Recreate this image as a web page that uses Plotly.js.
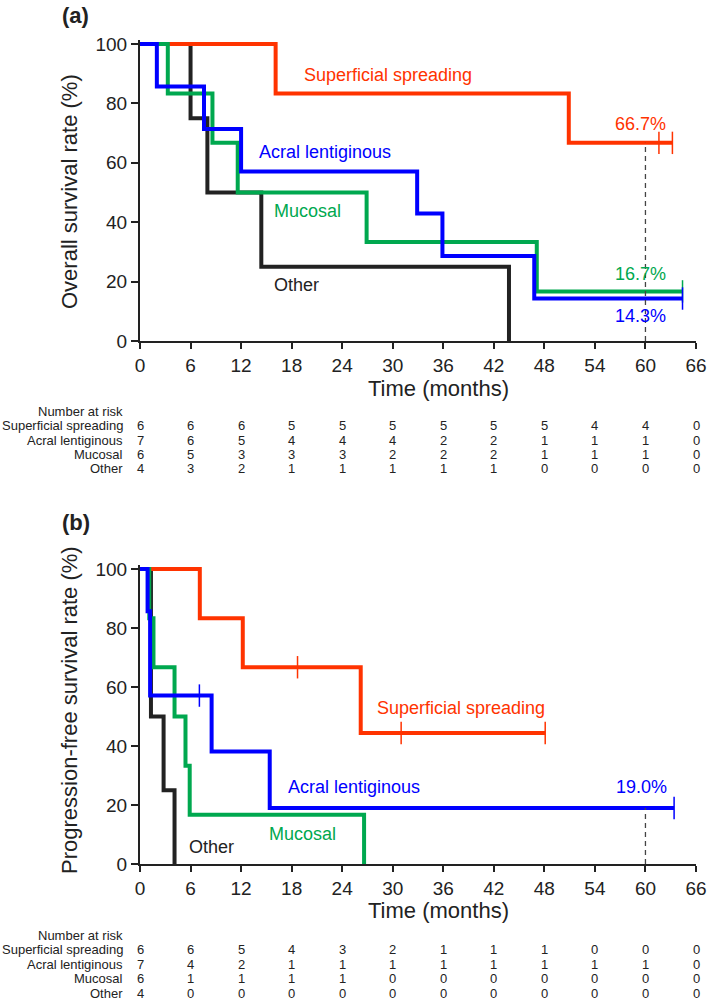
<!DOCTYPE html>
<html>
<head>
<meta charset="utf-8">
<script src="https://cdn.plot.ly/plotly-3.0.1.min.js"></script>
<style>
  body { margin: 0; background: #fff; }
  #plot { width: 709px; height: 1002px; }
</style>
</head>
<body>
<div id="plot"></div>
<script>
// groups, colours
var groups = ["Superficial spreading", "Acral lentiginous", "Mucosal", "Other"];
var colors = ["#ff3300", "#0000ff", "#00a84f", "#222222"];

var riskTimes = [0, 6, 12, 18, 24, 30, 36, 42, 48, 54, 60, 66];

// (a) overall survival - step times (months) and survival (%)
var osSsT = [0, 16.1, 50.9, 63.2];
var osSsS = [100, 83.3, 66.7, 66.7];
var osSsC = [61.6, 63.2];
var osAlT = [0, 2.0, 7.6, 12.0, 32.9, 35.9, 46.8, 64.4];
var osAlS = [100, 85.7, 71.4, 57.1, 42.9, 28.6, 14.3, 14.3];
var osAlC = [64.4];
var osMuT = [0, 3.3, 8.6, 11.6, 26.9, 47.1, 64.4];
var osMuS = [100, 83.3, 66.7, 50, 33.3, 16.7, 16.7];
var osMuC = [64.4];
var osOtT = [0, 6.0, 8.0, 14.4, 43.8];
var osOtS = [100, 75, 50, 25, 0];
var osOtC = [];

// (b) progression-free survival
var pfsSsT = [0, 7.1, 12.2, 26.2, 48.1];
var pfsSsS = [100, 83.3, 66.7, 44.4, 44.4];
var pfsSsC = [18.7, 31.0, 48.1];
var pfsAlT = [0, 0.9, 1.2, 8.5, 15.4, 63.4];
var pfsAlS = [100, 85.7, 57.1, 38.1, 19.0, 19.0];
var pfsAlC = [7.05, 63.4];
var pfsMuT = [0, 1.1, 1.6, 4.1, 5.4, 5.9, 26.6];
var pfsMuS = [100, 83.3, 66.7, 50, 33.3, 16.7, 0];
var pfsMuC = [];
var pfsOtT = [0, 1.3, 2.8, 4.1];
var pfsOtS = [100, 50, 25, 0];
var pfsOtC = [];

// number at risk
var osRiskSs = [6, 6, 6, 5, 5, 5, 5, 5, 5, 4, 4, 0];
var osRiskAl = [7, 6, 5, 4, 4, 4, 2, 2, 1, 1, 1, 0];
var osRiskMu = [6, 5, 3, 3, 3, 2, 2, 2, 1, 1, 1, 0];
var osRiskOt = [4, 3, 2, 1, 1, 1, 1, 1, 0, 0, 0, 0];
var pfsRiskSs = [6, 6, 5, 4, 3, 2, 1, 1, 1, 0, 0, 0];
var pfsRiskAl = [7, 4, 2, 1, 1, 1, 1, 1, 1, 1, 1, 0];
var pfsRiskMu = [6, 1, 1, 1, 1, 0, 0, 0, 0, 0, 0, 0];
var pfsRiskOt = [4, 0, 0, 0, 0, 0, 0, 0, 0, 0, 0, 0];

var landmark = 60;

var W = 709, H = 1002;
var font = "Liberation Sans, Arial, sans-serif";
var ink = "#222222";

function stepAt(t, s, c) {
  var v = s[0];
  for (var i = 0; i < t.length; i++) { if (t[i] <= c) v = s[i]; }
  return v;
}
function py(pix) { return 1 - pix / H; }

var traces = [];
function addPanel(sets, xa, ya, landmarkSeries) {
  // draw order: other, superficial, mucosal, acral
  [3, 0, 2, 1].forEach(function (k) {
    var d = sets[k];
    traces.push({
      x: d[0], y: d[1], xaxis: xa, yaxis: ya,
      type: "scatter", mode: "lines", line: { shape: "hv", width: 4, color: colors[k] },
      hoverinfo: "skip", showlegend: false
    });
    if (d[2].length) {
      traces.push({
        x: d[2], y: d[2].map(function (c) { return stepAt(d[0], d[1], c); }),
        xaxis: xa, yaxis: ya, type: "scatter", mode: "markers", cliponaxis: false,
        marker: { symbol: "line-ns-open", size: 16, color: colors[k], line: { width: 1.5, color: colors[k] } },
        hoverinfo: "skip", showlegend: false
      });
    }
  });
  var top = stepAt(sets[landmarkSeries][0], sets[landmarkSeries][1], landmark);
  traces.push({
    x: [landmark, landmark], y: [0, top], xaxis: xa, yaxis: ya,
    type: "scatter", mode: "lines", line: { width: 1.3, color: "#444", dash: "5px,4px" },
    hoverinfo: "skip", showlegend: false
  });
}

addPanel([[osSsT, osSsS, osSsC], [osAlT, osAlS, osAlC], [osMuT, osMuS, osMuC], [osOtT, osOtS, osOtC]], "x", "y", 0);
addPanel([[pfsSsT, pfsSsS, pfsSsC], [pfsAlT, pfsAlS, pfsAlC], [pfsMuT, pfsMuS, pfsMuC], [pfsOtT, pfsOtS, pfsOtC]], "x2", "y2", 1);

var xdom = [140 / W, 696 / W];
function xAxis(anchor) {
  return {
    domain: xdom, anchor: anchor, range: [0, 66], tickvals: riskTimes,
    ticks: "outside", ticklen: 6, tickwidth: 2, tickcolor: ink,
    showline: true, linewidth: 2, linecolor: ink, showgrid: false, zeroline: false,
    tickfont: { family: font, size: 19, color: ink }, fixedrange: true
  };
}
function yAxis(anchor, dom) {
  return {
    domain: dom, anchor: anchor, range: [0, 101.5], tickvals: [0, 20, 40, 60, 80, 100],
    ticks: "outside", ticklen: 7, tickwidth: 2, tickcolor: ink,
    showline: true, linewidth: 2, linecolor: ink, showgrid: false, zeroline: false,
    tickfont: { family: font, size: 19, color: ink }, fixedrange: true
  };
}

var ann = [];
function txt(text, x, y, xref, yref, size, color, extra) {
  var a = { text: text, x: x, y: y, xref: xref, yref: yref, showarrow: false,
    xanchor: "center", yanchor: "middle",
    font: { family: font, size: size, color: color } };
  for (var k in extra) a[k] = extra[k];
  ann.push(a);
}

// panel letters and titles
txt("<b>(a)</b>", 75 / W, py(16), "paper", "paper", 22, ink, {});
txt("<b>(b)</b>", 76 / W, py(522), "paper", "paper", 22, ink, {});
txt("Overall survival rate (%)", 70 / W, py(192), "paper", "paper", 22, ink, { textangle: -90 });
txt("Progression-free survival rate (%)", 69 / W, py(710), "paper", "paper", 22, ink, { textangle: -90 });
txt("Time (months)", 438 / W, py(388), "paper", "paper", 22, ink, {});
txt("Time (months)", 438 / W, py(910), "paper", "paper", 22, ink, {});

// curve labels
var osLabels = [["Superficial spreading", 388, 89.6, 0], ["Acral lentiginous", 325, 63.6, 1],
  ["Mucosal", 307, 43.8, 2], ["Other", 296, 18.9, 3],
  ["66.7%", 640, 73, 0], ["16.7%", 640, 22.6, 2], ["14.3%", 640, 8.4, 1]];
var pfsLabels = [["Superficial spreading", 461, 52.8, 0], ["Acral lentiginous", 354, 26, 1],
  ["19.0%", 641, 26, 1], ["Mucosal", 302, 10.2, 2], ["Other", 211, 5.6, 3]];
osLabels.forEach(function (l) { txt(l[0], l[1] / W, l[2], "paper", "y", 18, colors[l[3]], {}); });
pfsLabels.forEach(function (l) { txt(l[0], l[1] / W, l[2], "paper", "y2", 18, colors[l[3]], {}); });

// number at risk tables
function riskTable(xref, rows, rowsY, headY) {
  txt("Number at risk", 125 / W, py(headY), "paper", "paper", 13, ink, { xanchor: "right" });
  rows.forEach(function (r, i) {
    txt(groups[i], 125 / W, py(rowsY[i]), "paper", "paper", 13, ink, { xanchor: "right" });
    r.forEach(function (v, j) {
      txt(String(v), riskTimes[j], py(rowsY[i]), xref, "paper", 13, ink, {});
    });
  });
}
riskTable("x", [osRiskSs, osRiskAl, osRiskMu, osRiskOt], [425.5, 440, 454, 468.5], 411.5);
riskTable("x2", [pfsRiskSs, pfsRiskAl, pfsRiskMu, pfsRiskOt], [949.5, 964, 978.5, 993], 935.5);

var layout = {
  width: W, height: H,
  margin: { l: 0, r: 0, t: 0, b: 0 },
  paper_bgcolor: "#fff", plot_bgcolor: "#fff",
  font: { family: font, color: ink },
  showlegend: false,
  xaxis: xAxis("y"),
  yaxis: yAxis("x", [py(341), py(39.5)]),
  xaxis2: xAxis("y2"),
  yaxis2: yAxis("x2", [py(864), py(564.6)]),
  annotations: ann
};

Plotly.newPlot("plot", traces, layout, { displayModeBar: false, staticPlot: true });
</script>
</body>
</html>
